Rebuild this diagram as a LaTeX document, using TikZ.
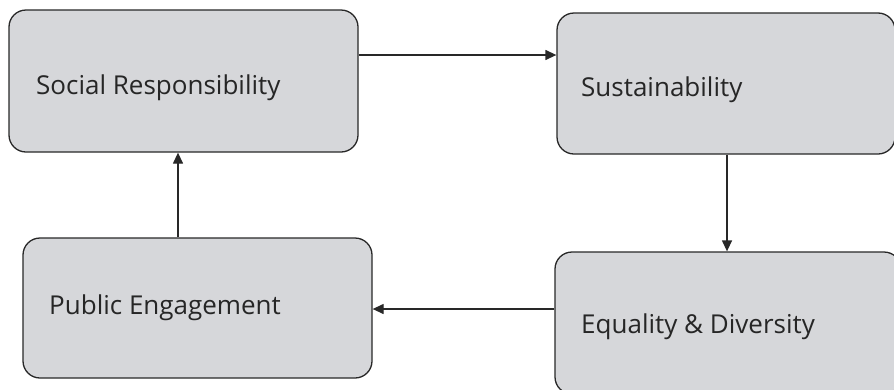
\documentclass[tikz,border=0pt]{standalone}
\usepackage{fontspec}
\setmainfont{Open Sans}
\usetikzlibrary{arrows.meta}
\definecolor{boxfill}{RGB}{214,215,218}
\definecolor{boxline}{RGB}{40,40,40}
\tikzset{
  card/.style={draw=boxline, fill=boxfill, line width=1.3pt, rounded corners=17pt,
    inner sep=0pt},
  cardtext/.style={anchor=west, inner sep=0pt, font=\fontsize{26}{30}\selectfont, text=black!85},
  flow/.style={draw=boxline, line width=1.3pt, -{Triangle[length=11pt,width=10pt]}}
}
\begin{document}
\begin{tikzpicture}[x=1pt,y=-1pt]
  \useasboundingbox (0,0) rectangle (894,389);
  \clip (0,0) rectangle (894,389);
  % four stages of the cycle
  \node[card, minimum width=349pt, minimum height=142pt] (social) at (183.5,81) {};
  \node[card, minimum width=338pt, minimum height=141pt] (sustain) at (726,83.5) {};
  \node[card, minimum width=349pt, minimum height=140pt] (public) at (197.5,308) {};
  \node[card, minimum width=346pt, minimum height=142pt] (equal) at (728,323) {};
  % labels
  \node[cardtext] (tsocial) at (36,88) {Social Responsibility};
  \node[cardtext] (tsustain) at (581,90) {Sustainability};
  \node[cardtext] (tpublic) at (49,308) {Public Engagement};
  \node[cardtext] (tequal) at (581,327) {Equality \& Diversity};
  % connectors
  \draw[flow] (social.east |- 0,55) -- (sustain.west |- 0,55);
  \draw[flow] (sustain.south -| 727,0) -- (equal.north -| 727,0);
  \draw[flow] (equal.west |- 0,309) -- (public.east |- 0,309);
  \draw[flow] (public.north -| 178,0) -- (social.south -| 178,0);
\end{tikzpicture}
\end{document}
